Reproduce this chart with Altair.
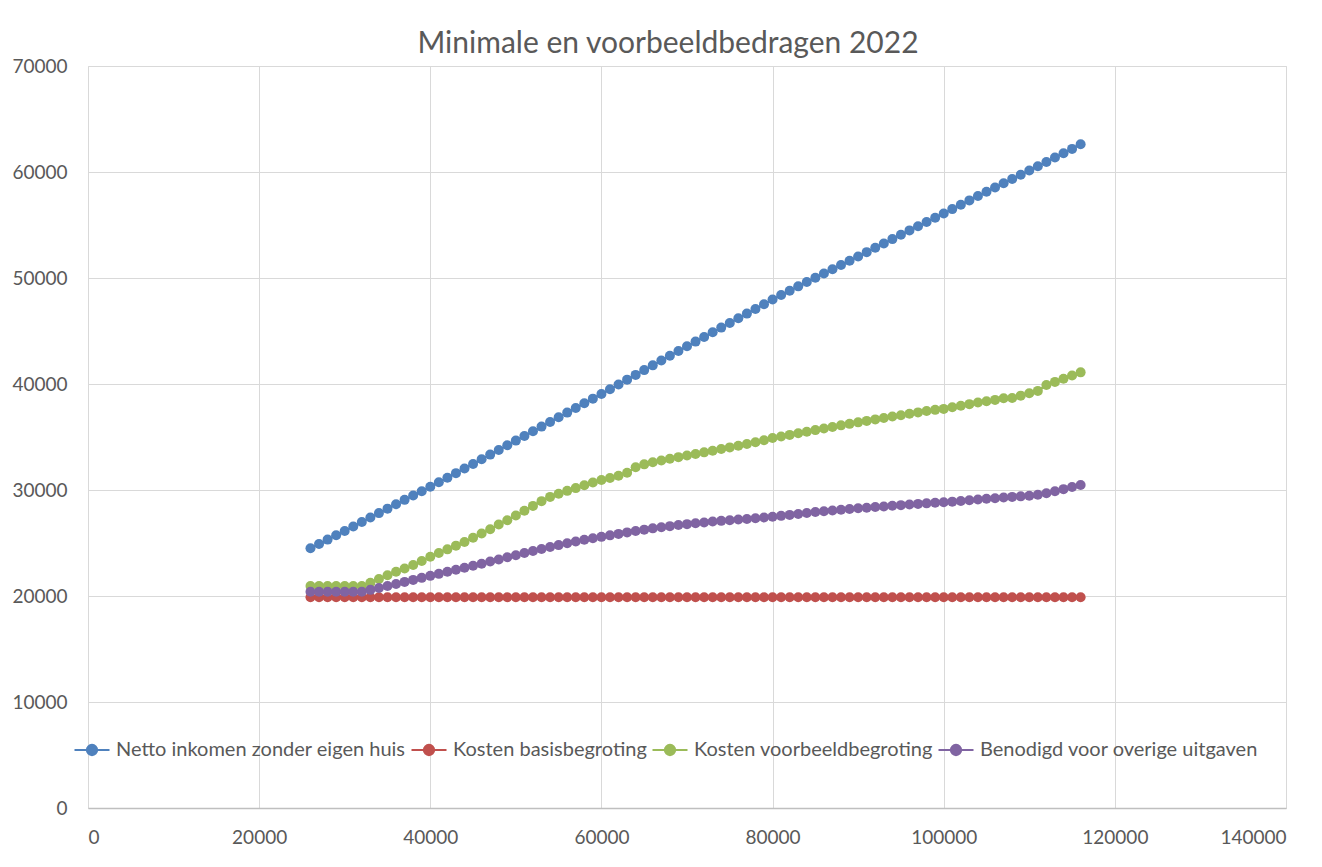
import altair as alt
import pandas as pd

# Gross income (x) for each point
inkomen = [
    26000, 27000, 28000, 29000, 30000, 31000, 32000, 33000, 34000, 35000,
    36000, 37000, 38000, 39000, 40000, 41000, 42000, 43000, 44000, 45000,
    46000, 47000, 48000, 49000, 50000, 51000, 52000, 53000, 54000, 55000,
    56000, 57000, 58000, 59000, 60000, 61000, 62000, 63000, 64000, 65000,
    66000, 67000, 68000, 69000, 70000, 71000, 72000, 73000, 74000, 75000,
    76000, 77000, 78000, 79000, 80000, 81000, 82000, 83000, 84000, 85000,
    86000, 87000, 88000, 89000, 90000, 91000, 92000, 93000, 94000, 95000,
    96000, 97000, 98000, 99000, 100000, 101000, 102000, 103000, 104000, 105000,
    106000, 107000, 108000, 109000, 110000, 111000, 112000, 113000, 114000, 115000,
    116000,
]

netto = [
    24500, 24910, 25320, 25730, 26140, 26560, 26980, 27400, 27820, 28240,
    28660, 29070, 29480, 29890, 30300, 30730, 31160, 31590, 32020, 32460,
    32900, 33340, 33780, 34220, 34660, 35100, 35540, 35980, 36420, 36860,
    37300, 37740, 38180, 38620, 39060, 39510, 39960, 40410, 40860, 41310,
    41760, 42210, 42660, 43110, 43560, 44000, 44440, 44880, 45320, 45760,
    46200, 46640, 47080, 47530, 47980, 48390, 48800, 49210, 49620, 50030,
    50430, 50830, 51230, 51630, 52030, 52440, 52850, 53260, 53670, 54080,
    54490, 54890, 55290, 55690, 56090, 56500, 56910, 57320, 57730, 58140,
    58540, 58940, 59340, 59740, 60140, 60540, 60950, 61360, 61770, 62180,
    62610,
]

basis = [
    19880, 19880, 19880, 19880, 19880, 19880, 19880, 19880, 19880, 19880,
    19880, 19880, 19880, 19880, 19880, 19880, 19880, 19880, 19880, 19880,
    19880, 19880, 19880, 19880, 19880, 19880, 19880, 19880, 19880, 19880,
    19880, 19880, 19880, 19880, 19880, 19880, 19880, 19880, 19880, 19880,
    19880, 19880, 19880, 19880, 19880, 19880, 19880, 19880, 19880, 19880,
    19880, 19880, 19880, 19880, 19880, 19880, 19880, 19880, 19880, 19880,
    19880, 19880, 19880, 19880, 19880, 19880, 19880, 19880, 19880, 19880,
    19880, 19880, 19880, 19880, 19880, 19880, 19880, 19880, 19880, 19880,
    19880, 19880, 19880, 19880, 19880, 19880, 19880, 19880, 19880, 19880,
    19880,
]

voorbeeld = [
    20950, 20950, 20950, 20950, 20950, 20950, 20950, 21250, 21600, 21950,
    22280, 22600, 22930, 23300, 23700, 24050, 24400, 24750, 25100, 25500,
    25900, 26300, 26750, 27150, 27600, 28050, 28500, 28950, 29350, 29650,
    29920, 30180, 30450, 30700, 30940, 31130, 31350, 31630, 32150, 32420,
    32620, 32790, 32950, 33100, 33250, 33400, 33550, 33700, 33860, 34020,
    34180, 34340, 34500, 34700, 34900, 35050, 35200, 35350, 35500, 35650,
    35800, 35950, 36100, 36240, 36380, 36520, 36660, 36800, 36930, 37060,
    37190, 37320, 37450, 37560, 37650, 37800, 37950, 38100, 38250, 38380,
    38500, 38650, 38680, 38900, 39120, 39350, 39900, 40200, 40500, 40800,
    41100,
]

overig = [
    20400, 20400, 20400, 20400, 20400, 20400, 20400, 20580, 20760, 20950,
    21140, 21330, 21520, 21710, 21900, 22090, 22280, 22470, 22660, 22850,
    23050, 23250, 23450, 23650, 23850, 24050, 24250, 24430, 24620, 24800,
    24970, 25140, 25300, 25450, 25580, 25720, 25860, 26000, 26140, 26260,
    26380, 26490, 26590, 26690, 26780, 26860, 26940, 27020, 27090, 27150,
    27210, 27270, 27330, 27400, 27470, 27560, 27650, 27740, 27830, 27920,
    28000, 28070, 28140, 28210, 28270, 28330, 28390, 28450, 28510, 28570,
    28630, 28690, 28740, 28790, 28840, 28900, 28960, 29030, 29100, 29170,
    29230, 29290, 29350, 29400, 29460, 29560, 29700, 29880, 30080, 30280,
    30470,
]

series_names = [
    "Netto inkomen zonder eigen huis",
    "Kosten basisbegroting",
    "Kosten voorbeeldbegroting",
    "Benodigd voor overige uitgaven",
]
series_colors = ["#4F81BD", "#C0504D", "#9BBB59", "#8064A2"]
x_ticks = [0, 20000, 40000, 60000, 80000, 100000, 120000, 140000]
y_ticks = [0, 10000, 20000, 30000, 40000, 50000, 60000, 70000]

rows = []
for name, vals in zip(series_names, [netto, basis, voorbeeld, overig]):
    for xv, yv in zip(inkomen, vals):
        rows.append({"serie": name, "inkomen": xv, "bedrag": yv})
df = pd.DataFrame(rows)

FONT = "Lato"
TXT = "#595959"
GRID = "#D9D9D9"

legend_symbol = "M-1,0H1M-0.29,0A0.29,0.29,0,1,1,0.29,0A0.29,0.29,0,1,1,-0.29,0Z"

color = alt.Color(
    "serie:N",
    scale=alt.Scale(domain=series_names, range=series_colors),
    sort=series_names,
    legend=alt.Legend(
        title=None,
        orient="none",
        legendX=-15,
        legendY=665,
        direction="horizontal",
        columns=4,
        symbolType=legend_symbol,
        symbolSize=1225,
        symbolStrokeWidth=2.2,
        labelFont=FONT,
        labelFontSize=20,
        labelColor=TXT,
        labelOffset=5,
        columnPadding=1,
        labelLimit=400,
    ),
)

x_enc = alt.X(
    "inkomen:Q",
    scale=alt.Scale(domain=[0, 140000], nice=False, zero=True),
    axis=alt.Axis(
        title=None,
        values=x_ticks,
        format="d",
        ticks=False,
        labelPadding=20,
        domainColor="#BFBFBF",
        domainWidth=1.3,
        gridColor=GRID,
        labelFont=FONT,
        labelFontSize=19,
        labelColor=TXT,
    ),
)
y_enc = alt.Y(
    "bedrag:Q",
    scale=alt.Scale(domain=[0, 70000], nice=False),
    axis=alt.Axis(
        title=None,
        values=y_ticks,
        format="d",
        ticks=False,
        domain=False,
        labelPadding=21,
        gridColor=GRID,
        labelFont=FONT,
        labelFontSize=19,
        labelColor=TXT,
    ),
)

base = alt.Chart(df).encode(x=x_enc, y=y_enc, color=color, order=alt.Order("inkomen:Q"))

lines = base.mark_line(strokeWidth=2.2)
points = base.mark_point(filled=True, opacity=1, size=100, shape="circle")

chart = (
    alt.layer(lines, points)
    .properties(
        width=1198,
        height=742,
        title=alt.TitleParams(
            "Minimale en voorbeeldbedragen 2022",
            font=FONT,
            fontSize=30,
            fontWeight="normal",
            color=TXT,
            anchor="middle",
            dx=-19,
            dy=10,
            offset=8,
        ),
        padding={"left": 80, "top": 58, "right": 28, "bottom": 50},
        autosize=alt.AutoSizeParams(type="none"),
    )
    .configure_view(stroke=None)
    .configure(background="white")
)

chart.save("out.html", embed_options={"renderer": "svg", "actions": False})
